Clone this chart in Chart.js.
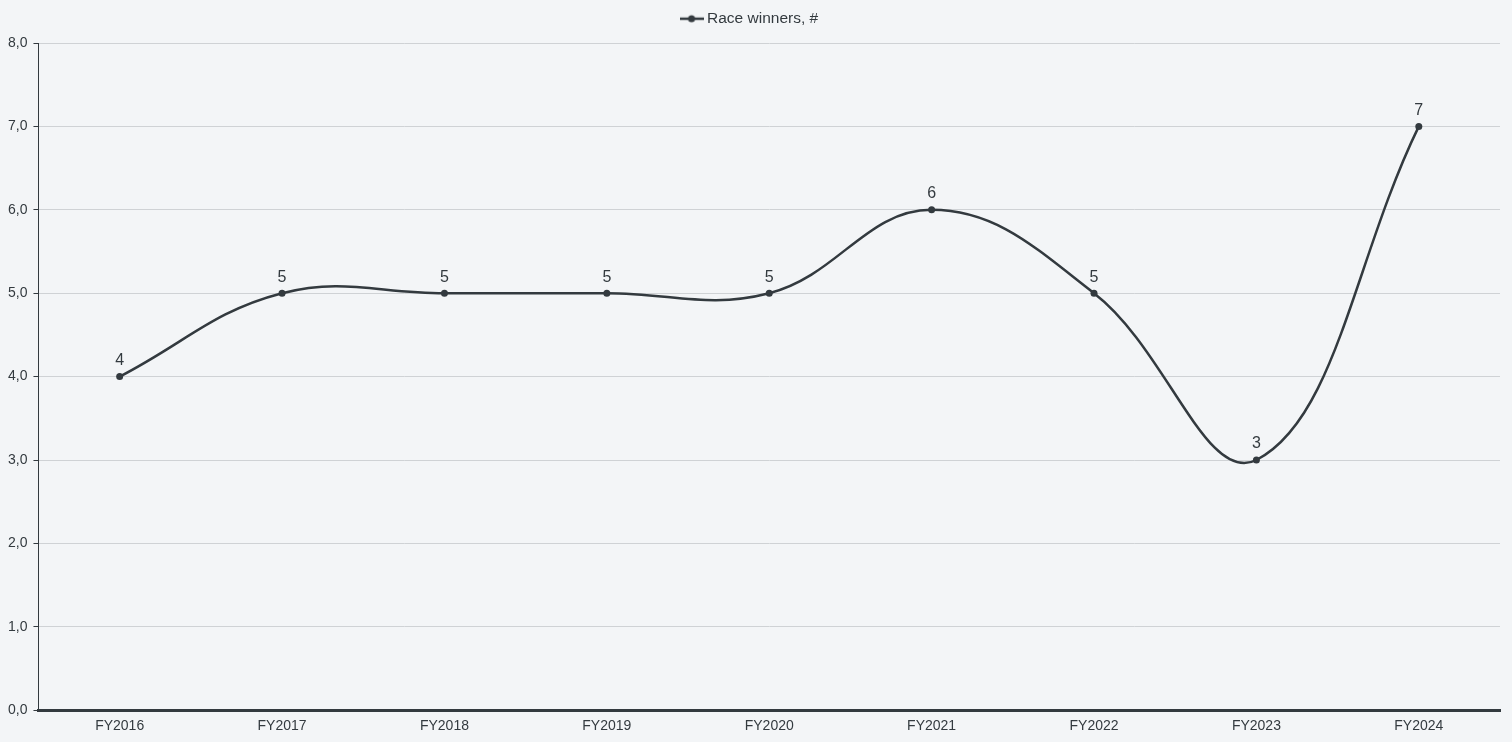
<!DOCTYPE html>
<html><head><meta charset="utf-8">
<script src="https://cdn.jsdelivr.net/npm/chart.js@4/dist/chart.umd.min.js"></script>
<style>html,body{margin:0;padding:0;background:#f3f5f7;}#wrap{width:1512px;height:742px;}</style>
</head><body><div id="wrap"><canvas id="c"></canvas></div>
<script>
const categories = ['FY2016','FY2017','FY2018','FY2019','FY2020','FY2021','FY2022','FY2023','FY2024'];
const raceWinners = [4,5,5,5,5,6,5,3,7];
const seriesLabel = 'Race winners, #';
const yMin = 0, yMax = 8, yStep = 1;

const lineColor = '#333a3f';
const FONT = '"Liberation Sans", Arial, sans-serif';

// legend marker: line with dot
const marker = document.createElement('canvas');
marker.width = 24; marker.height = 10;
(function(){const g = marker.getContext('2d');
g.strokeStyle = lineColor; g.lineWidth = 2.5; g.beginPath(); g.moveTo(0,5); g.lineTo(24,5); g.stroke();
g.fillStyle = lineColor; g.beginPath(); g.arc(12,5,3.5,0,Math.PI*2); g.fill();})();

const legendSpace = {
  id: 'legendSpace',
  beforeUpdate(chart){
    const lg = chart.legend;
    if (lg && !lg._patched){
      const orig = lg.fit;
      lg.fit = function(){ orig.call(this); this.height = 43; };
      lg._patched = true;
    }
  }
};

const labelPlugin = {
  id: 'pointLabels',
  afterDatasetsDraw(chart){
    const ctx = chart.ctx;
    const meta = chart.getDatasetMeta(0);
    ctx.save();
    ctx.font = '16px ' + FONT;
    ctx.fillStyle = '#333a3f';
    ctx.textAlign = 'center';
    ctx.textBaseline = 'bottom';
    meta.data.forEach((pt, i) => {
      ctx.fillText(String(chart.data.datasets[0].data[i]), pt.x, pt.y - 8);
    });
    ctx.restore();
  }
};

new Chart(document.getElementById('c'), {
  type: 'line',
  data: {
    labels: categories,
    datasets: [{
      label: seriesLabel,
      data: raceWinners,
      borderColor: lineColor,
      backgroundColor: lineColor,
      borderWidth: 2.5,
      tension: 0.4,
      pointRadius: 3.5,
      pointHoverRadius: 4,
      pointBackgroundColor: lineColor,
      pointBorderWidth: 0,
      fill: false
    }]
  },
  options: {
    responsive: true,
    maintainAspectRatio: false,
    animation: false,
    layout: {padding: {left: 2, right: 12, top: 0, bottom: 0}},
    plugins: {
      tooltip: {enabled: false},
      legend: {
        position: 'top',
        labels: {
          usePointStyle: true,
          pointStyle: marker,
          color: '#333a3f',
          font: {family: FONT, size: 15.5},
          padding: 11,
          boxHeight: 10
        }
      }
    },
    scales: {
      x: {
        offset: true,
        grid: {display: false, drawTicks: false},
        border: {display: true, color: lineColor, width: 3},
        ticks: {color: '#333a3f', font: {family: FONT, size: 14}, padding: 7.5}
      },
      y: {
        min: yMin, max: yMax,
        ticks: {
          stepSize: yStep,
          color: '#333a3f',
          font: {family: FONT, size: 14},
          padding: 6,
          callback: v => v.toFixed(1).replace('.', ',')
        },
        grid: {color: '#cfd2d5', lineWidth: 1, tickLength: 5, tickColor: lineColor},
        border: {display: true, color: lineColor, width: 1}
      }
    }
  },
  plugins: [legendSpace, labelPlugin]
});
</script>
</body></html>
